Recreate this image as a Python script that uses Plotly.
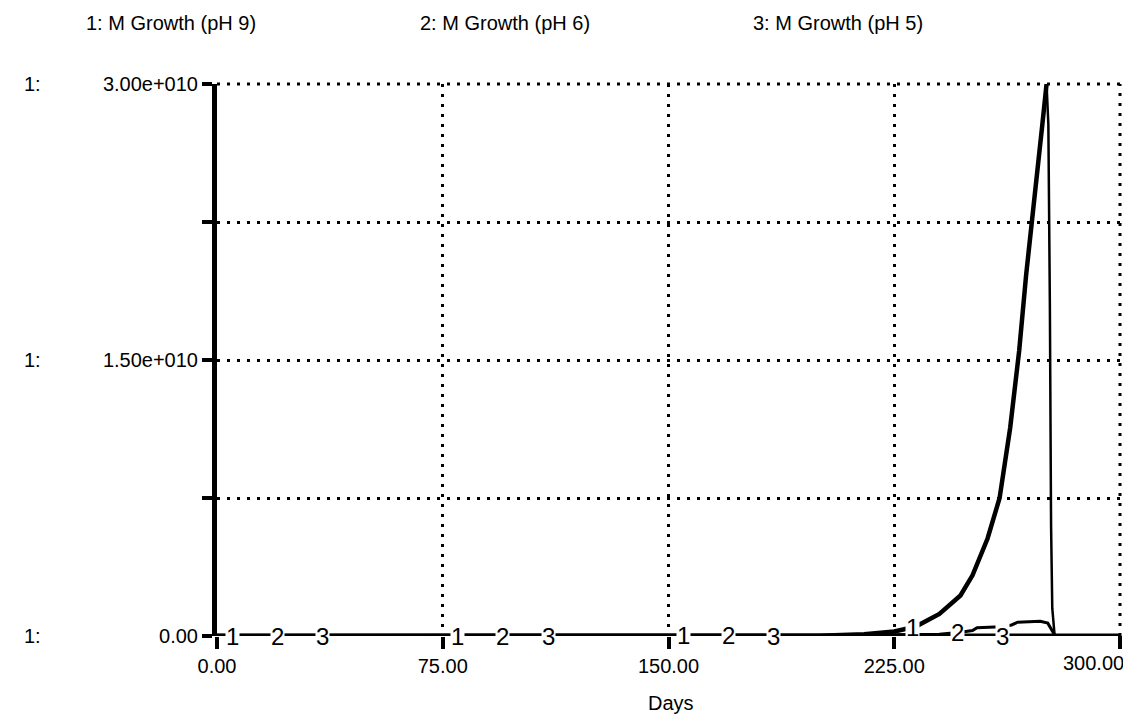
import numpy as np
import plotly.graph_objects as go

# ---- data (values in units of 1e10) ----
days1 = [0, 100, 200, 215, 225, 232, 240, 247, 251, 256, 260, 263.5, 266.5, 268.8,
         271.1, 272.7, 274.2, 275.6, 276.2, 276.7, 277.1, 277.5, 278.3, 300]
vals1 = [0, 0, 0.002, 0.01, 0.025, 0.05, 0.12, 0.22, 0.33, 0.53, 0.75, 1.13, 1.55, 1.96,
         2.29, 2.55, 2.78, 3.0, 2.78, 1.8, 0.6, 0.15, 0, 0]

days2 = [0, 100, 200, 240, 247, 251, 252.5, 260.5, 264, 266, 273.5, 276.0, 277.3, 278.5, 300]
vals2 = [0, 0, 0.003, 0.01, 0.02, 0.03, 0.045, 0.05, 0.06, 0.075, 0.08, 0.07, 0.03, 0, 0]

days3 = [0, 150, 300]
vals3 = [0, 0, 0]

series_names = ["1: M Growth (pH 9)", "2: M Growth (pH 6)", "3: M Growth (pH 5)"]
label_days = {1: [5, 80, 155, 231], 2: [20, 95, 170, 246], 3: [35, 110, 185, 261]}

x_ticks = [0, 75, 150, 225, 300]
x_ticktext = ["0.00", "75.00", "150.00", "225.00", ""]
x_last_label = "300.00"
y_ticks = [0, 0.75e10, 1.5e10, 2.25e10, 3.0e10]
y_ticktext = ["0.00", "", "1.50e+010", "", "3.00e+010"]

SCALE = 1e10
FONT = "Liberation Sans, Arial, sans-serif"
X0, X1, Y0, Y1 = 209, 1112, 628, 76   # plot-area pixel bounds
W, H = X1 - X0, Y0 - Y1


def px_x(p):
    return (p - X0) / W


def px_y(p):
    return (Y0 - p) / H


fig = go.Figure()
series = [(days1, vals1), (days2, vals2), (days3, vals3)]

peak = int(np.argmax(vals1))
fig.add_trace(go.Scatter(x=days3, y=[v * SCALE for v in vals3], mode="lines",
                         line=dict(color="black", width=5), hoverinfo="skip"))
fig.add_trace(go.Scatter(x=days2, y=[v * SCALE for v in vals2], mode="lines",
                         line=dict(color="black", width=3), hoverinfo="skip"))
fig.add_trace(go.Scatter(x=days1[:peak + 1], y=[v * SCALE for v in vals1[:peak + 1]],
                         mode="lines", line=dict(color="black", width=4.5), hoverinfo="skip"))
fig.add_trace(go.Scatter(x=days1[peak:], y=[v * SCALE for v in vals1[peak:]],
                         mode="lines", line=dict(color="black", width=2.5), hoverinfo="skip"))

annotations = []
for i, (d, v) in enumerate(series, start=1):
    for ld in label_days[i]:
        annotations.append(dict(x=ld, y=float(np.interp(ld, d, v)) * SCALE, xref="x", yref="y",
                                text=str(i), showarrow=False, bgcolor="white", borderpad=0,
                                font=dict(size=24, color="black", family=FONT)))

for name, px in zip(series_names, [76, 410, 743]):
    annotations.append(dict(x=px_x(px), y=px_y(15), xref="paper", yref="paper",
                            xanchor="left", yanchor="middle", text=name, showarrow=False,
                            font=dict(size=20, color="black", family=FONT)))
for yv in [0, 1.5e10, 3e10]:
    annotations.append(dict(x=px_x(24), y=yv, xref="paper", yref="y", text="1:",
                            showarrow=False, xanchor="center", yanchor="middle",
                            font=dict(size=20, color="black", family=FONT)))
annotations.append(dict(x=300, y=px_y(655), xref="x", yref="paper", text=x_last_label,
                        showarrow=False, xanchor="right", yanchor="middle", xshift=6,
                        font=dict(size=20, color="black", family=FONT)))
annotations.append(dict(x=px_x(663), y=px_y(708), xref="paper", yref="paper",
                        text="Days", showarrow=False, font=dict(size=20, color="black", family=FONT)))

dot = dict(color="black", width=3, dash="3px,7px")
shapes = [
    dict(type="line", xref="paper", yref="paper", x0=0, x1=1, y0=1, y1=1, line=dot, layer="below"),
    dict(type="line", xref="paper", yref="paper", x0=1, x1=1, y0=0, y1=1, line=dot, layer="below"),
    dict(type="line", xref="paper", yref="paper", x0=1, x1=1, y0=0, y1=px_y(Y0 + 13),
         line=dict(color="black", width=4)),
]

fig.update_layout(
    width=1131, height=725,
    margin=dict(l=X0, r=1131 - X1, t=Y1, b=725 - Y0),
    paper_bgcolor="white", plot_bgcolor="white",
    showlegend=False,
    annotations=annotations,
    shapes=shapes,
    font=dict(family=FONT, size=20, color="black"),
    xaxis=dict(range=[0, 300], tickvals=x_ticks, ticktext=x_ticktext,
               ticks="outside", ticklen=12, tickwidth=4, tickcolor="black",
               showline=False, zeroline=False, ticklabeloverflow="allow",
               showgrid=True, gridcolor="black", gridwidth=3, griddash="3px,7px",
               tickfont=dict(size=20, family=FONT, color="black")),
    yaxis=dict(range=[0, 3e10], tickvals=y_ticks, ticktext=y_ticktext,
               ticks="outside", ticklen=10, tickwidth=4, tickcolor="black",
               showline=True, linewidth=5, linecolor="black", zeroline=False,
               showgrid=True, gridcolor="black", gridwidth=3, griddash="3px,7px",
               tickfont=dict(size=20, family=FONT, color="black")),
)

fig.write_html("out.html")
